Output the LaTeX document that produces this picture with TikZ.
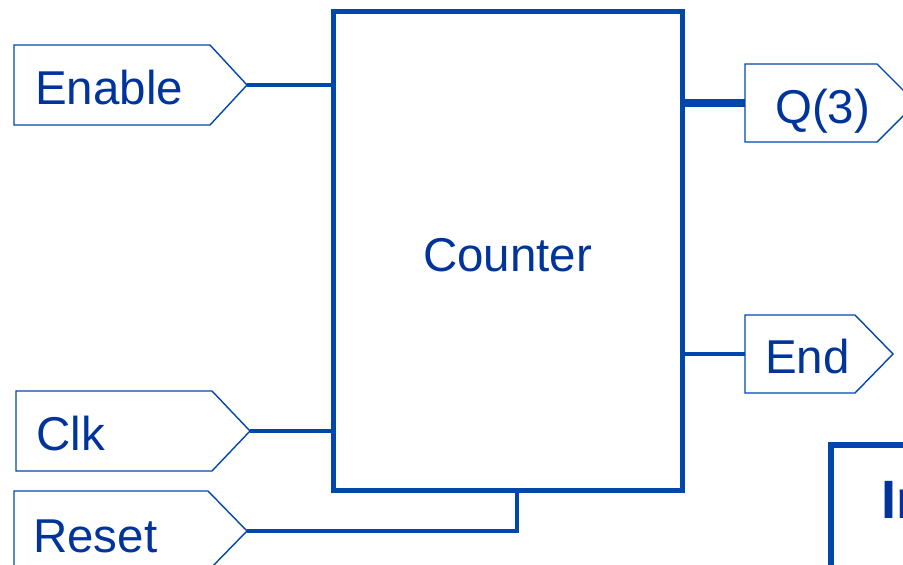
\documentclass[tikz,border=0pt]{standalone}
\usepackage{fontspec}
\setmainfont{Liberation Sans}
\definecolor{lineblue}{RGB}{0,71,171}
\definecolor{textblue}{RGB}{0,52,155}
\begin{document}
\begin{tikzpicture}[x=1pt,y=-1pt,
  port/.style={draw=lineblue,line width=1.4pt,fill=white,line join=miter},
  wire/.style={draw=lineblue,line width=4.2pt},
  bus/.style={draw=lineblue,line width=8pt},
  lbl/.style={text=textblue,font=\fontsize{47.5}{52}\selectfont,inner sep=0pt,anchor=base west},
  blk/.style={draw=lineblue,line width=5pt,inner sep=0pt,rectangle}]
\useasboundingbox (0,0) rectangle (903,565);
\clip (0,0) rectangle (903,565);
% counter block
\node[blk,minimum width=349pt,minimum height=479pt] (box) at (507.5,250.5) {};
\node[lbl,anchor=base] (ctr) at (507.5,271) {Counter};
% input ports
\draw[port] (14,45) -- (210,45) -- (247,85) -- (210,125) -- (14,125) -- cycle;
\coordinate (enTip) at (247,85);
\node[lbl] (en) at (35,104) {Enable};
\draw[port] (16,391) -- (212,391) -- (250,431) -- (212,471) -- (16,471) -- cycle;
\coordinate (clkTip) at (250,431);
\node[lbl] (clk) at (36,450) {Clk};
\draw[port] (14,491) -- (208,491) -- (247,531) -- (208,571) -- (14,571) -- cycle;
\coordinate (rsTip) at (247,531);
\node[lbl] (rs) at (33,552) {Reset};
% output ports
\draw[port] (745,64) -- (877,64) -- (916,103) -- (877,142) -- (745,142) -- cycle;
\coordinate (qIn) at (745,103);
\node[lbl] (q) at (775,123) {Q(3)};
\draw[port] (745,315) -- (855,315) -- (893,354) -- (855,393) -- (745,393) -- cycle;
\coordinate (endIn) at (745,354);
\node[lbl] (endl) at (765,373) {End};
% wires
\draw[wire] (enTip) -- (enTip -| box.west);
\draw[wire] (clkTip) -- (clkTip -| box.west);
\coordinate (rsUp) at (517,490);
\draw[wire] (rsTip) -| (rsUp);
\draw[bus] (qIn -| box.east) -- (qIn);
\draw[wire] (endIn -| box.east) -- (endIn);
% partial block at bottom right
\draw[lineblue,line width=6pt] (831,600) -- (831,444.5) -- (950,444.5);
\node[text=textblue,font=\fontsize{54}{58}\selectfont\bfseries,inner sep=0pt,anchor=base west] (part) at (881,518) {In};
\end{tikzpicture}
\end{document}
